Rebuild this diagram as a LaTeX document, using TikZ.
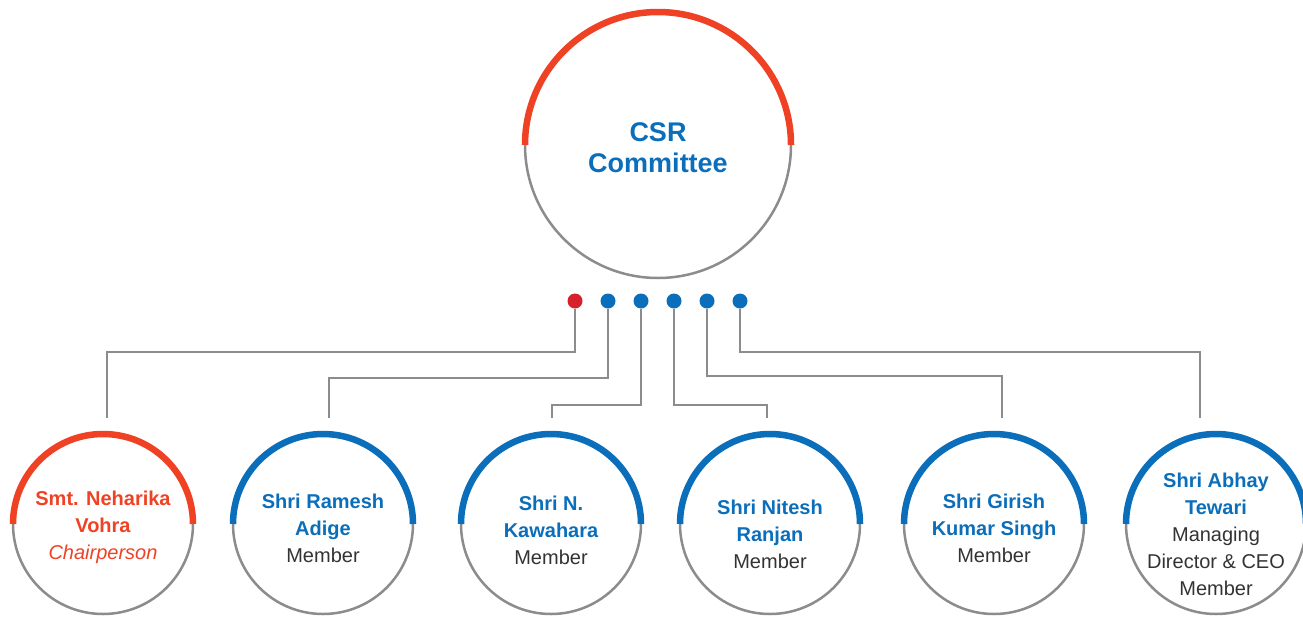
\documentclass[tikz,border=0pt]{standalone}
\usepackage{fontspec}
\setmainfont{Liberation Sans}
\usepackage{tikz}

\newcommand{\rolename}[1]{{\normalfont\color{tgray}#1}}

\begin{document}
\begin{tikzpicture}[x={(1pt,0pt)}, y={(0pt,-1pt)},
    %Option for rings, arcs and links
    inner sep=0pt, outer sep=0pt,%
    ring/.style={circle, draw=lgray, line width=2.5pt, minimum size=#1},
    toparc/.style={line width=6.5pt, color=#1},
    link/.style={draw=lgray, line width=2.5pt},
    dot/.style={circle, fill=#1, minimum size=15pt},
    persontxt/.style={align=center, text=cblue, font=\fontsize{20}{27}\selectfont\bfseries},
]
    % Colors
    \definecolor{cblue}{HTML}{0A6EBA}
    \definecolor{cred}{HTML}{EF4123}
    \definecolor{dred}{HTML}{D6202C}
    \definecolor{lgray}{HTML}{8C8C8E}
    \definecolor{tgray}{HTML}{333333}

    % Frame
    \useasboundingbox (0,0) rectangle (1303,616);
    \clip (0,0) rectangle (1303,616);

    % Committee ring
    \node[ring=266pt] (csr) at (658,145) {};
    \draw[toparc=cred] (csr.west) arc[start angle=180, end angle=360, radius=133];
    \node[persontxt, font=\fontsize{27}{31}\selectfont\bfseries] (csrtxt) at (658,148) {CSR\\Committee};

    % Member rings
    \foreach \i/\x/\c in {1/103/cred, 2/323/cblue, 3/551/cblue, 4/770/cblue, 5/994/cblue, 6/1216/cblue} {
        \node[ring=180pt] (m\i) at (\x,524) {};
        \draw[toparc=\c] (m\i.west) arc[start angle=180, end angle=360, radius=90];
    }

    \node[persontxt, text=cred] (l1) at (103,527) {Smt. Neharika\\Vohra\\{\normalfont\itshape Chairperson}};
    \node[persontxt] (l2) at (323,528) {Shri Ramesh\\Adige\\\rolename{Member}};
    \node[persontxt] (l3) at (551,530) {Shri N.\\Kawahara\\\rolename{Member}};
    \node[persontxt] (l4) at (770,534) {Shri Nitesh\\Ranjan\\\rolename{Member}};
    \node[persontxt] (l5) at (994,528) {Shri Girish\\Kumar Singh\\\rolename{Member}};
    \node[persontxt] (l6) at (1216,534) {Shri Abhay\\Tewari\\\rolename{Managing}\\\rolename{Director \& CEO}\\\rolename{Member}};

    % Link ends above the member rings
    \coordinate (t1) at (107,418);
    \coordinate (t2) at (329,418);
    \coordinate (t3) at (552,418);
    \coordinate (t4) at (767,418);
    \coordinate (t5) at (1002,418);
    \coordinate (t6) at (1200,418);

    % Dots below the committee ring
    \foreach \i/\x/\c in {1/575/dred, 2/608/cblue, 3/641/cblue, 4/674/cblue, 5/707/cblue, 6/740/cblue}
        \node[dot=\c] (d\i) at (\x,301) {};

    % Links
    \draw[link] (d1.south) -- (d1.south |- 0,352) -| (t1);
    \draw[link] (d2.south) -- (d2.south |- 0,378) -| (t2);
    \draw[link] (d3.south) -- (d3.south |- 0,405) -| (t3);
    \draw[link] (d4.south) -- (d4.south |- 0,405) -| (t4);
    \draw[link] (d5.south) -- (d5.south |- 0,376) -| (t5);
    \draw[link] (d6.south) -- (d6.south |- 0,352) -| (t6);
\end{tikzpicture}
\end{document}
